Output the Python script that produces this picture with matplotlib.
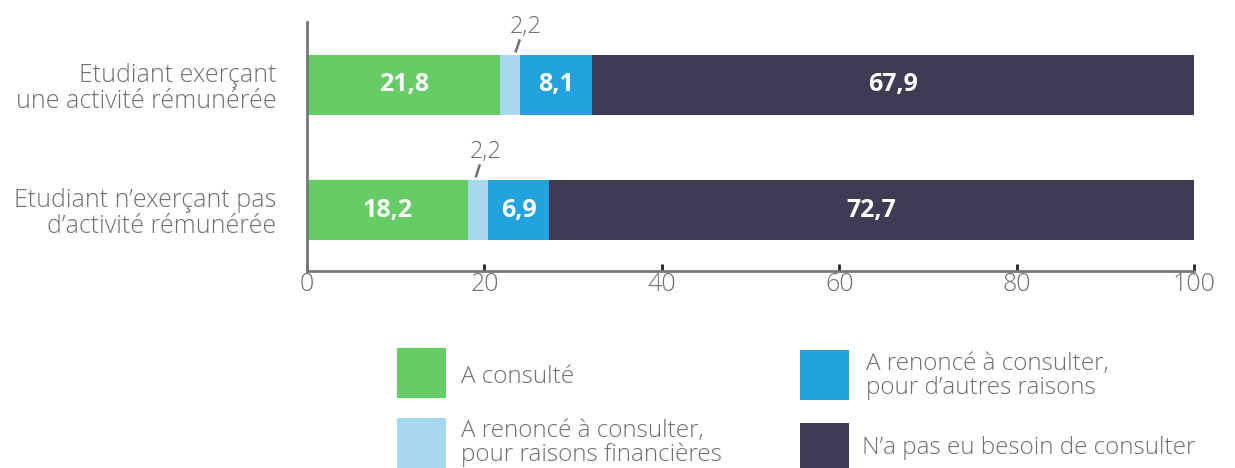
import matplotlib
matplotlib.use("Agg")
import matplotlib.pyplot as plt
from matplotlib.patches import Rectangle

plt.rcParams['font.family'] = ['Open Sans', 'DejaVu Sans']

# Données
categories = ["Etudiant exerçant\nune activité rémunérée",
              "Etudiant n\u2019exerçant pas\nd\u2019activité rémunérée"]
series_labels = ["A consulté",
                 "A renoncé à consulter,\npour raisons financières",
                 "A renoncé à consulter,\npour d\u2019autres raisons",
                 "N\u2019a pas eu besoin de consulter"]
valeurs = [
    [21.8, 18.2],   # A consulté
    [2.2, 2.2],     # renoncé, raisons financières
    [8.1, 6.9],     # renoncé, autres raisons
    [67.9, 72.7],   # pas eu besoin
]
couleurs = ["#66CC66", "#A8D8EF", "#22A3DD", "#403B54"]
xticks = [0, 20, 40, 60, 80, 100]

gris = "#707070"

fig = plt.figure(figsize=(12.35, 4.68), dpi=100)
ax = fig.add_axes([307/1235, 1 - 271/468, (1194 - 307)/1235, (271 - 22)/468])

ypos = [1, 0]
hauteur = 0.48
# décalage horizontal (trait bas, trait haut, texte) des petites étiquettes
decalages = [(0.6, 1.1, 1.8), (-0.3, 0.2, 0.9)]
gauche = [0.0, 0.0]
for i, (vals, c) in enumerate(zip(valeurs, couleurs)):
    ax.barh(ypos, vals, left=gauche, height=hauteur, color=c, linewidth=0)
    for j, v in enumerate(vals):
        centre = gauche[j] + v / 2
        txt = f"{v:.1f}".replace(".", ",")
        if i == 1:
            # petite valeur : étiquette au-dessus avec un trait
            d0, d1, dt = decalages[j]
            haut = ypos[j] + hauteur / 2
            ax.plot([centre + d0, centre + d1], [haut + 0.02, haut + 0.125],
                    color=gris, lw=1.8, clip_on=False, solid_capstyle="butt")
            ax.text(centre + dt, haut + 0.225, txt, ha="center", va="center",
                    fontsize=17, color=gris, fontweight="light")
        else:
            ax.text(centre, ypos[j], txt, ha="center", va="center",
                    color="white", fontsize=18, fontweight="bold")
    gauche = [g + v for g, v in zip(gauche, vals)]

ax.set_xlim(0, 100)
ax.set_ylim(-0.488, 1.504)
ax.set_yticks(ypos)
ax.set_yticklabels(categories, fontsize=18, color=gris, fontweight="light",
                   linespacing=1.05)
ax.set_xticks(xticks)
ax.set_xticklabels([str(t) for t in xticks], fontsize=18, color=gris,
                   fontweight="light")
ax.tick_params(axis="y", length=0, pad=22)
ax.tick_params(axis="x", direction="in", length=5, width=2, color="#222222",
               pad=1)
for s in ["top", "right"]:
    ax.spines[s].set_visible(False)
for s in ["left", "bottom"]:
    ax.spines[s].set_color("#777777")
    ax.spines[s].set_linewidth(2)

# Légende manuelle
pos_legende = [(397, 348, 461, 377),
               (397, 418, 461, 443),
               (800, 350, 866, 376),
               (800, 423, 862, 448)]
for (px, py, tx, ty), lab, c in zip(pos_legende, series_labels, couleurs):
    fig.patches.append(Rectangle((px/1235, 1 - (py + 50)/468), 49/1235, 50/468,
                                 transform=fig.transFigure, color=c,
                                 linewidth=0))
    fig.text(tx/1235, 1 - ty/468, lab, ha="left", va="center", fontsize=17.5,
             color=gris, fontweight="light", linespacing=0.95)

fig.savefig("out.png", dpi=100)
